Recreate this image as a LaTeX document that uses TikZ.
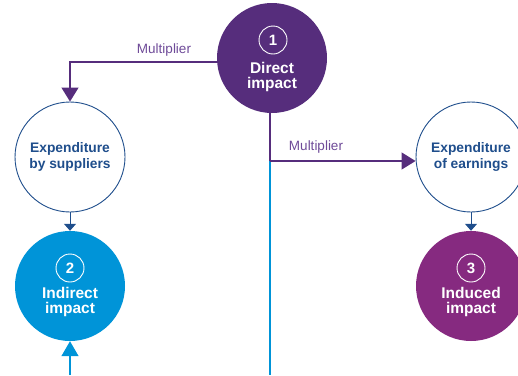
\documentclass[tikz,border=0pt]{standalone}
\usepackage{fontspec}
\setmainfont{Liberation Sans}
\usetikzlibrary{arrows.meta,positioning}
\definecolor{dpurple}{HTML}{562D7C}
\definecolor{ipurple}{HTML}{862A80}
\definecolor{lblue}{HTML}{0094D8}
\definecolor{dblue}{HTML}{1F4E8C}
\definecolor{mtext}{HTML}{6E4A98}
\tikzset{
  bigcirc/.style={circle, minimum size=110pt, inner sep=0pt},
  outcirc/.style={circle, draw=dblue, line width=0.9pt, fill=white, minimum size=110pt, inner sep=0pt, align=center, text=dblue, font=\bfseries\fontsize{13.8}{15.5}\selectfont},
  numcirc/.style={circle, draw=white, line width=0.9pt, minimum size=28pt, inner sep=0pt, text=white, font=\bfseries\fontsize{15}{15}\selectfont},
  title/.style={text=white, font=\bfseries\fontsize{15.5}{15}\selectfont, align=center, inner sep=0pt},
  purpleline/.style={draw=dpurple, line width=1.3pt},
  blueline/.style={draw=lblue, line width=1.3pt},
  smallarrow/.style={draw=dblue, line width=1pt, -{Triangle[width=12pt,length=7pt]}},
  lbl/.style={text=mtext, font=\fontsize{13.5}{14}\selectfont, inner sep=0pt}
}
\begin{document}
\begin{tikzpicture}[x=1pt,y=1pt]
\useasboundingbox (0,0) rectangle (518,-375);
\clip (0,0) rectangle (518,-375);
% main circles
\node[bigcirc, fill=dpurple] (direct) at (272,-58) {};
\node[outcirc] (es) at (70,-157) {Expenditure\\by suppliers};
\node[outcirc] (ee) at (471,-157) {Expenditure\\of earnings};
\node[bigcirc, fill=lblue] (ind) at (70,-286) {};
\node[bigcirc, fill=ipurple] (indc) at (471,-286) {};
% numbers and titles
\node[numcirc] (n1) at (273,-40) {1};
\node[title] (t1) at (272,-77) {Direct\\impact};
\node[numcirc] (n2) at (70,-268) {2};
\node[title] (t2) at (70,-302) {Indirect\\impact};
\node[numcirc] (n3) at (471,-268) {3};
\node[title] (t3) at (471,-302) {Induced\\impact};
% coordinates
\coordinate (j) at (270,-161);
\coordinate (bot) at (270,-375);
\coordinate (botl) at (70,-375);
\coordinate (dl) at (217,-62);
% connectors
\draw[purpleline, -{Triangle[width=17pt,length=14pt]}] (dl) -| (es.north);
\node[lbl] (m1) at (164,-50) {Multiplier};
\draw[blueline] (j) -- (bot);
\draw[purpleline] (direct.south -| j) -- (j);
\draw[purpleline, -{Triangle[width=17pt,length=14pt]}] (j) -- (j -| ee.west);
\node[lbl] (m2) at (316,-147) {Multiplier};
\draw[smallarrow] (es.south) -- (ind.north);
\draw[smallarrow] (ee.south) -- (indc.north);
\draw[blueline, -{Triangle[width=17pt,length=15pt]}] (botl) -- (ind.south);
\end{tikzpicture}
\end{document}
